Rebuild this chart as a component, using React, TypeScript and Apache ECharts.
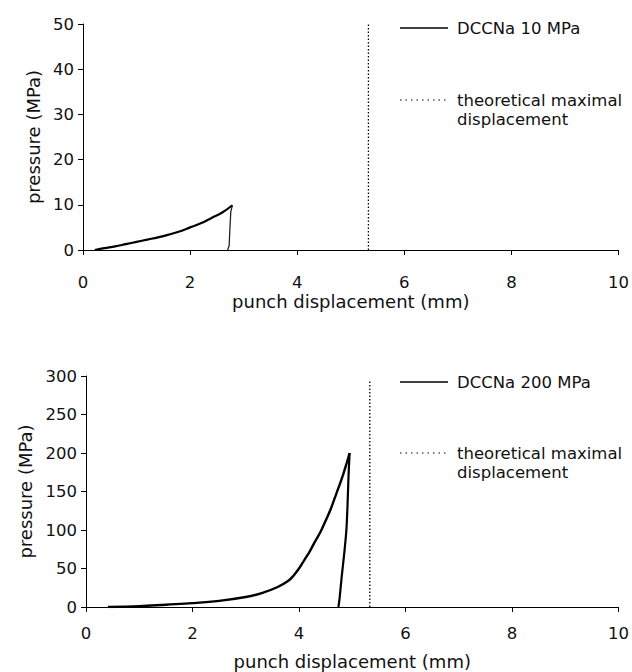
import React, { useEffect, useRef } from "react";
import * as echarts from "echarts";

// ---- data ----
const xTicks = [0, 2, 4, 6, 8, 10];
const topYTicks = [0, 10, 20, 30, 40, 50];
const bottomYTicks = [0, 50, 100, 150, 200, 250, 300];

// 10 MPa: loading then unloading
const top10LoadX = [0.22, 0.4, 0.6, 0.8, 1.0, 1.2, 1.4, 1.6, 1.8, 2.0, 2.2, 2.4, 2.6, 2.79];
const top10LoadY = [0, 0.4, 0.8, 1.3, 1.8, 2.3, 2.8, 3.4, 4.1, 5.0, 5.9, 7.1, 8.3, 9.9];
const top10UnloadX = [2.79, 2.76, 2.74, 2.73, 2.7];
const top10UnloadY = [9.9, 8.5, 4, 1, 0];

// 200 MPa: loading then unloading
const bot200LoadX = [0.41, 1.0, 1.5, 2.0, 2.5, 3.0, 3.3, 3.6, 3.8, 3.9, 4.0, 4.1, 4.2, 4.3, 4.4, 4.5, 4.6, 4.7, 4.8, 4.9, 4.95];
const bot200LoadY = [0, 1, 3, 5, 8, 13, 18, 26, 34, 41, 50, 61, 72, 85, 97, 112, 128, 147, 166, 188, 200];
const bot200UnloadX = [4.95, 4.93, 4.91, 4.89, 4.85, 4.8, 4.76, 4.74];
const bot200UnloadY = [200, 170, 130, 100, 70, 38, 10, 0];

const theoX = [5.33, 5.33];
const theoTopY = [0, 50];
const theoBotY = [0, 295];

const seriesTopName = "DCCNa 10 MPa";
const seriesBotName = "DCCNa 200 MPa";
const theoLines = ["theoretical maximal", "displacement"];

const FONT = "DejaVu Sans";

function zip(xs: number[], ys: number[]) {
  return xs.map((x, i) => [x, ys[i]]);
}

export default function App() {
  const ref = useRef<HTMLDivElement>(null);
  useEffect(() => {
    if (!ref.current) return;
    const chart = echarts.init(ref.current, undefined, { renderer: "svg" });

    const axisLine = { show: true, lineStyle: { color: "#000", width: 1 } };
    const axisTick = { show: true, length: 5, lineStyle: { color: "#000", width: 1 } };
    const labelStyle = { color: "#111", fontSize: 16.5, fontFamily: FONT };
    const nameStyle = { color: "#111", fontSize: 18, fontFamily: FONT };

    const xAxisBase = (gridIndex: number, margin: number, gap: number) => ({
      type: "value",
      gridIndex,
      min: 0,
      max: 10,
      interval: 2,
      axisLine,
      axisTick,
      splitLine: { show: false },
      axisLabel: { ...labelStyle, margin, formatter: (v: number) => (xTicks.includes(v) ? String(v) : "") },
      name: "punch displacement (mm)",
      nameLocation: "middle",
      nameGap: gap,
      nameTextStyle: nameStyle,
    });

    const yAxisBase = (gridIndex: number, max: number, interval: number, ticks: number[], gap: number) => ({
      type: "value",
      gridIndex,
      min: 0,
      max,
      interval,
      axisLine,
      axisTick,
      splitLine: { show: false },
      axisLabel: { ...labelStyle, margin: 9, formatter: (v: number) => (ticks.includes(v) ? String(v) : "") },
      name: "pressure (MPa)",
      nameLocation: "middle",
      nameGap: gap,
      nameTextStyle: nameStyle,
    });

    const legendGroup = (x: number, y1: number, y2: number, name: string) => ({
      type: "group",
      children: [
        { type: "line", shape: { x1: x, y1, x2: x + 48, y2: y1 }, style: { stroke: "#000", lineWidth: 1.5 } },
        {
          type: "text",
          x: x + 57,
          y: y1,
          style: { text: name, fill: "#111", font: `16.5px "${FONT}"`, textVerticalAlign: "middle" },
        },
        { type: "line", shape: { x1: x, y1: y2, x2: x + 48, y2 }, style: { stroke: "#000", lineWidth: 1.2, lineDash: [1.5, 4] } },
        {
          type: "text",
          x: x + 57,
          y: y2 - 9.5,
          style: { text: theoLines.join("\n"), fill: "#111", font: `16.5px "${FONT}"`, lineHeight: 19, textVerticalAlign: "top" },
        },
      ],
    });

    const solid = (w: number) => ({ color: "#000", width: w });
    const dotted = { color: "#000", width: 1.3, type: [1.5, 2] };

    chart.setOption({
      animation: false,
      backgroundColor: "#fff",
      grid: [
        { left: 83, top: 24, width: 538, height: 226 },
        { left: 86, top: 376, width: 533, height: 231 },
      ],
      xAxis: [xAxisBase(0, 24, 42), xAxisBase(1, 18, 45)],
      yAxis: [yAxisBase(0, 50, 10, topYTicks, 37), yAxisBase(1, 300, 50, bottomYTicks, 45)],
      series: [
        {
          name: seriesTopName,
          type: "line",
          xAxisIndex: 0,
          yAxisIndex: 0,
          data: zip(top10LoadX, top10LoadY),
          symbol: "none",
          smooth: 0.4,
          lineStyle: solid(2.2),
        },
        {
          name: seriesTopName,
          type: "line",
          xAxisIndex: 0,
          yAxisIndex: 0,
          data: zip(top10UnloadX, top10UnloadY),
          symbol: "none",
          lineStyle: { color: "#222", width: 1.3 },
        },
        {
          name: "theoretical maximal displacement",
          type: "line",
          xAxisIndex: 0,
          yAxisIndex: 0,
          data: zip(theoX, theoTopY),
          symbol: "none",
          lineStyle: dotted,
        },
        {
          name: seriesBotName,
          type: "line",
          xAxisIndex: 1,
          yAxisIndex: 1,
          data: zip(bot200LoadX, bot200LoadY),
          symbol: "none",
          smooth: 0.4,
          lineStyle: solid(2.4),
        },
        {
          name: seriesBotName,
          type: "line",
          xAxisIndex: 1,
          yAxisIndex: 1,
          data: zip(bot200UnloadX, bot200UnloadY),
          symbol: "none",
          smooth: 0.3,
          lineStyle: solid(2.2),
        },
        {
          name: "theoretical maximal displacement",
          type: "line",
          xAxisIndex: 1,
          yAxisIndex: 1,
          data: zip(theoX, theoBotY),
          symbol: "none",
          lineStyle: dotted,
        },
      ],
      graphic: [legendGroup(400, 28, 100, seriesTopName), legendGroup(400, 382, 453, seriesBotName)],
    });

    return () => chart.dispose();
  }, []);

  return (
    <div
      ref={ref}
      style={{ position: "absolute", left: 0, top: 0, width: 632, height: 672 }}
    />
  );
}
